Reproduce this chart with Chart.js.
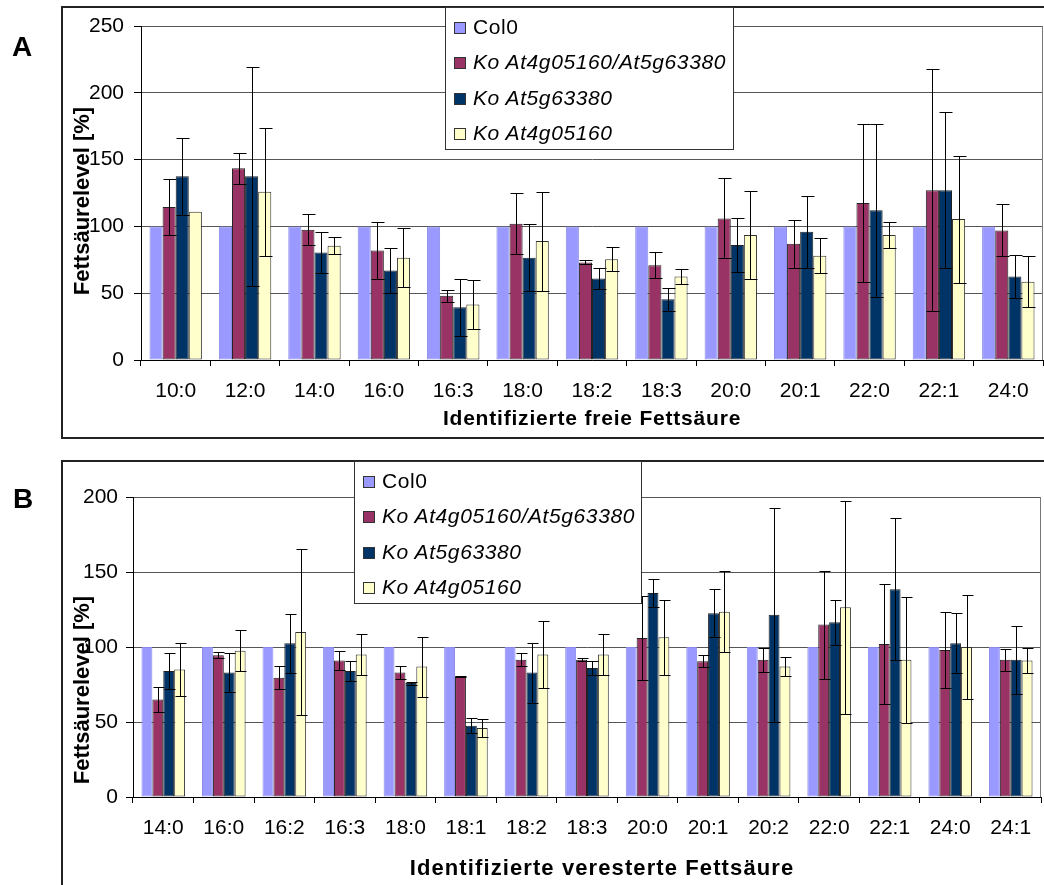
<!DOCTYPE html>
<html><head><meta charset="utf-8">
<script src="https://cdn.jsdelivr.net/npm/chart.js@4.4.0/dist/chart.umd.min.js"></script>
<style>
html,body{margin:0;padding:0;background:#fff;}
#wrap{position:relative;width:1044px;height:885px;overflow:hidden;background:#fff;font-family:'Liberation Sans',Arial,sans-serif;color:#000;}
canvas{position:absolute;left:0;}
.box{position:absolute;border:2px solid #222;box-sizing:border-box;pointer-events:none;}
.legend{position:absolute;background:#fff;border:1px solid #333;box-sizing:border-box;}
.li{position:absolute;left:0;height:22px;width:285px;}
.li .sw{position:absolute;left:8px;top:6px;width:12px;height:12px;border:1px solid #333;box-sizing:border-box;}
.li .tx{position:absolute;left:27px;top:0;line-height:22px;font-size:21px;white-space:nowrap;letter-spacing:0.6px;}
.it{font-style:italic;}
.ytitle{position:absolute;width:300px;height:22px;line-height:22px;font-size:22px;font-weight:bold;text-align:center;transform:rotate(-90deg);white-space:nowrap;}
.xtitle{position:absolute;width:700px;text-align:center;font-weight:bold;white-space:nowrap;}
.panel{position:absolute;font-weight:bold;font-size:28px;line-height:28px;}
</style>
</head><body>
<div id="wrap">
<canvas id="cA" width="1044" height="440" style="top:0;width:1044px;height:440px"></canvas>
<canvas id="cB" width="1044" height="445" style="top:440px;width:1044px;height:445px"></canvas>
<div class="box" style="left:61px;top:6px;width:1000px;height:433px"></div>
<div class="box" style="left:61px;top:460px;width:1000px;height:440px"></div>
<div class="panel" style="left:12px;top:33px">A</div>
<div class="panel" style="left:13px;top:485px">B</div>
<div class="ytitle" style="left:-68px;top:190px">Fettsäurelevel [%]</div>
<div class="ytitle" style="left:-68px;top:679px">Fettsäurelevel [%]</div>
<div class="xtitle" style="left:242px;top:407px;font-size:21px;line-height:21px;letter-spacing:0.8px">Identifizierte freie Fettsäure</div>
<div class="xtitle" style="left:252px;top:857px;font-size:22px;line-height:22px;letter-spacing:1.1px">Identifizierte veresterte Fettsäure</div>
<div class="legend" id="legA" style="left:445px;top:7px;width:289px;height:143px"></div>
<div class="legend" id="legB" style="left:354px;top:461px;width:288px;height:143px"></div>
</div>
<script>
// ---- Data: chart A (freie Fettsäuren) ----
const catsA = ['10:0','12:0','14:0','16:0','16:3','18:0','18:2','18:3','20:0','20:1','22:0','22:1','24:0'];
const col0A = [100,100,100,100,100,100,100,100,100,100,100,100,100];
const koDoubleA = [114.5,143.5,97.5,82,48,102,73,71,106,87,117.5,127,97];
const koDoubleErrA = [21,11.5,11.5,21,4.5,23,1.5,9.5,30,18,59,90.5,19.5];
const ko5gA = [137.5,137.5,80.5,67,39.5,76.5,61,45.5,86,96,112,127,62.5];
const ko5gErrA = [29,82,15.5,17,21.5,25,8,8.5,20,27,65,58.5,16];
const ko4gA = [111,126,85.5,76.5,41.5,89,75.5,62.5,93.5,78,93.5,105.5,58.5];
const ko4gErrA = [0,48,6.5,22,18.5,37,9,5.5,33,13,9.5,47.5,19];
const ticksA = [0,50,100,150,200,250];

// ---- Data: chart B (veresterte Fettsäuren) ----
const catsB = ['14:0','16:0','16:2','16:3','18:0','18:1','18:2','18:3','20:0','20:1','20:2','22:0','22:1','24:0','24:1'];
const col0B = [100,100,100,100,100,100,100,100,100,100,100,100,100,100,100];
const koDoubleB = [65,94.5,79.5,91,83,80.5,91.5,91.5,106,90.5,91.5,115,102,98,91.5];
const koDoubleErrB = [8.5,2,7.5,6.5,4.5,0.3,4.5,1,28,4,8,36,40,25.5,7.5];
const ko5gB = [84,83,102.5,84,76,47.5,83,86,136,122.5,121.5,116.5,138.5,102.5,91.5];
const ko5gErrB = [12,13,19.5,6.5,1,5,20,4.5,9.5,16,71.5,15,47.5,20,22.5];
const ko4gB = [85,97.5,110,95,87,46,95,95,106.5,123.5,87,126.5,91.5,100,91];
const ko4gErrB = [17.5,13.5,55.5,13.5,20,6,22.5,13.5,25,27,6.5,71,42,34.5,8.5];
const ticksB = [0,50,100,150,200];

const seriesNames = ['Col0','Ko At4g05160/At5g63380','Ko At5g63380','Ko At4g05160'];
const seriesColors = ['#9999FF','#993366','#003366','#FFFFCC'];
const seriesBorders = ['#8A8AE8','#222222','#222222','#333333'];
const FONT = "'Liberation Sans', Arial, sans-serif";

const errorBars = {
  id:'errorBars',
  afterDatasetsDraw(chart){
    const ctx = chart.ctx, ys = chart.scales.y;
    ctx.save();
    ctx.strokeStyle = '#000';
    ctx.lineWidth = 1;
    chart.data.datasets.forEach((ds,i)=>{
      if(!ds.errors) return;
      const meta = chart.getDatasetMeta(i);
      meta.data.forEach((bar,j)=>{
        const e = ds.errors[j];
        if(!e) return;
        const v = ds.data[j];
        const x = Math.round(bar.x)+0.5;
        const yt = Math.round(ys.getPixelForValue(v+e))+0.5;
        const yb = Math.round(ys.getPixelForValue(v-e))+0.5;
        const hw = Math.round(bar.width*0.45);
        ctx.beginPath();
        ctx.moveTo(x,yt); ctx.lineTo(x,yb);
        ctx.moveTo(x-hw,yt); ctx.lineTo(x+hw+1,yt);
        ctx.moveTo(x-hw,yb); ctx.lineTo(x+hw+1,yb);
        ctx.stroke();
      });
    });
    ctx.restore();
  }
};
const plotBorder = {
  id:'plotBorder',
  afterDraw(chart){
    const a = chart.chartArea, ctx = chart.ctx;
    ctx.save();
    ctx.strokeStyle = '#777';
    ctx.lineWidth = 1;
    ctx.beginPath();
    ctx.moveTo(Math.round(a.right)-0.5, a.top);
    ctx.lineTo(Math.round(a.right)-0.5, a.bottom);
    ctx.stroke();
    ctx.restore();
  }
};

function build(canvasId, labels, values, errors, tickVals, o){
  const datasets = values.map((vals,i)=>({
    label: seriesNames[i],
    data: vals,
    errors: errors[i],
    backgroundColor: seriesColors[i],
    borderColor: seriesBorders[i],
    borderWidth: 1,
    borderSkipped: false
  }));
  return new Chart(document.getElementById(canvasId), {
    type:'bar',
    data:{labels, datasets},
    plugins:[errorBars, plotBorder],
    options:{
      responsive:false, animation:false, devicePixelRatio:1,
      layout:{padding:{top:o.top,right:o.right,left:0,bottom:0}},
      plugins:{legend:{display:false},tooltip:{enabled:false},title:{display:false}},
      datasets:{bar:{categoryPercentage:o.cat,barPercentage:1}},
      scales:{
        x:{
          type:'category', offset:true,
          grid:{offset:true, drawOnChartArea:false, drawTicks:true, tickLength:6, color:'#000', tickColor:'#000', lineWidth:1},
          border:{display:true,color:'#000',width:1},
          ticks:{color:'#000', font:{family:FONT,size:21}, padding:13, maxRotation:0, minRotation:0, autoSkip:false},
          afterFit(s){ s.height = o.xh; s.paddingLeft = 0; s.paddingRight = 0; }
        },
        y:{
          min:tickVals[0], max:tickVals[tickVals.length-1],
          afterBuildTicks(s){ s.ticks = tickVals.map(v=>({value:v})); },
          ticks:{color:'#000', font:{family:FONT,size:21}, padding:o.ypad},
          grid:{color:'#555', tickColor:'#000', tickLength:7, lineWidth:1},
          border:{display:true,color:'#000',width:1},
          afterFit(s){ s.width = o.yw; s.paddingTop = 0; s.paddingBottom = 0; }
        }
      }
    }
  });
}

build('cA', catsA, [col0A,koDoubleA,ko5gA,ko4gA], [null,koDoubleErrA,ko5gErrA,ko4gErrA], ticksA,
  {top:26, right:1, xh:80, yw:141, cat:0.755, ypad:10});
build('cB', catsB, [col0B,koDoubleB,ko5gB,ko4gB], [null,koDoubleErrB,ko5gErrB,ko4gErrB], ticksB,
  {top:57, right:3, xh:88, yw:133, cat:0.72, ypad:8});

function legend(id){
  const el = document.getElementById(id);
  const centers = [18.5,54.3,89.6,125.2];
  seriesNames.forEach((n,i)=>{
    const d = document.createElement('div');
    d.className = 'li';
    d.style.top = (centers[i]-11)+'px';
    const sw = document.createElement('div');
    sw.className = 'sw';
    sw.style.background = seriesColors[i];
    const tx = document.createElement('div');
    tx.className = 'tx' + (i>0 ? ' it' : '');
    tx.textContent = n;
    d.appendChild(sw); d.appendChild(tx);
    el.appendChild(d);
  });
}
legend('legA'); legend('legB');
</script>
</body></html>
